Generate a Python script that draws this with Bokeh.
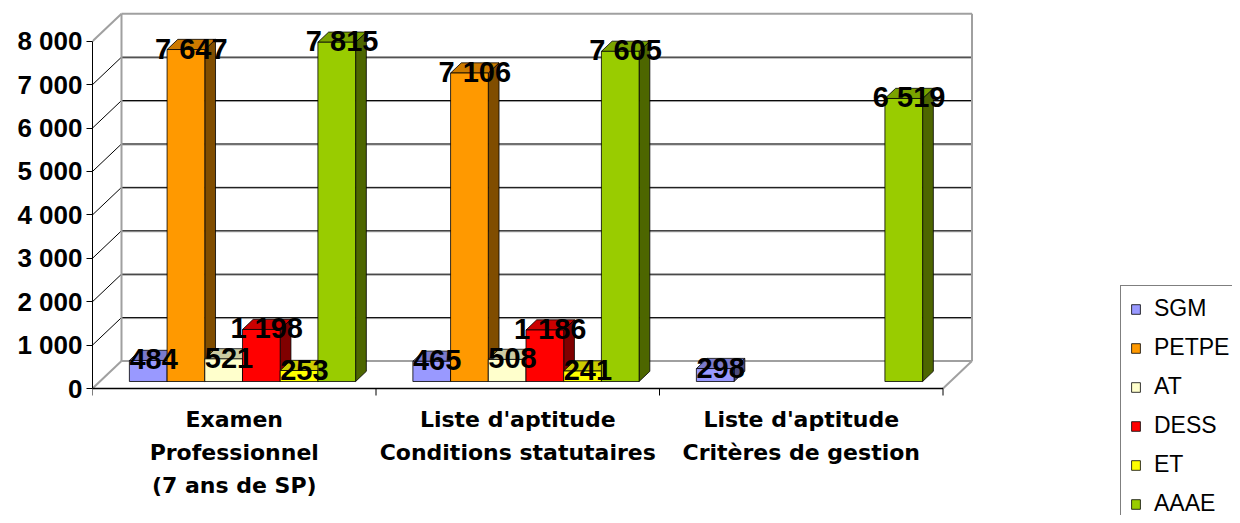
from bokeh.plotting import figure
from bokeh.models import Range1d, FixedTicker, Legend, LegendItem
from bokeh.embed import file_html
from bokeh.resources import INLINE
from bokeh.core.properties import value

# ---------------- data ----------------
CATEGORIES = ["Examen\nProfessionnel\n(7 ans de SP)",
              "Liste d'aptitude\nConditions statutaires",
              "Liste d'aptitude\nCritères de gestion"]
SERIES = ["SGM", "PETPE", "AT", "DESS", "ET", "AAAE"]
SGM = [484, 465, 298]
PETPE = [7647, 7106, None]
AT = [521, 508, None]
DESS = [1198, 1186, None]
ET = [253, 241, None]
AAAE = [7815, 7605, 6519]
Y_TICKS = [0, 1000, 2000, 3000, 4000, 5000, 6000, 7000, 8000]
Y_TICK_LABELS = ["0", "1 000", "2 000", "3 000", "4 000", "5 000", "6 000", "7 000", "8 000"]

VALUES = [SGM, PETPE, AT, DESS, ET, AAAE]
FRONT = ["#9999FF", "#FF9900", "#FFFFCC", "#FF0000", "#FFFF00", "#99CC00"]
TOP = ["#7A7ACC", "#CC7A00", "#CCCCA3", "#CC0000", "#CCCC00", "#7AA300"]
SIDE = ["#4D4D80", "#804D00", "#808066", "#800000", "#808000", "#4D6600"]

# ---------------- geometry (pixels -> data units) ----------------
W, H = 1232, 515
LEFT = 92
PX_PER_CAT = 283.5
PX_PER_UNIT = 0.04341
ZERO_FROM_BOTTOM = H - 388      # px from frame bottom to value 0
frame_w = W - LEFT
x_end = frame_w / PX_PER_CAT
y_start = -ZERO_FROM_BOTTOM / PX_PER_UNIT
y_end = (H - ZERO_FROM_BOTTOM) / PX_PER_UNIT

DDX = 29 / PX_PER_CAT           # wall depth in x
DDY = 27.5 / PX_PER_UNIT        # wall depth in y
F0 = 0.255                      # bar front position in depth
BD = 0.37                       # bar depth fraction
PAD = 0.104
BW = 0.133
NC = len(CATEGORIES)
YMAX = Y_TICKS[-1]

p = figure(width=W, height=H, output_backend="svg", toolbar_location=None,
           x_range=Range1d(0, x_end), y_range=Range1d(y_start, y_end),
           x_axis_location=None, min_border_left=LEFT, min_border_right=0,
           min_border_top=0, min_border_bottom=0)
p.outline_line_color = None
p.xgrid.visible = False
p.ygrid.visible = False

ax = p.yaxis[0]
ax.ticker = FixedTicker(ticks=Y_TICKS, minor_ticks=[])
ax.major_label_overrides = {t: l for t, l in zip(Y_TICKS, Y_TICK_LABELS)}
ax.bounds = (0, YMAX)
ax.axis_line_color = "black"
ax.major_tick_line_color = "black"
ax.major_tick_out = 6
ax.major_tick_in = 0
ax.minor_tick_line_color = None
ax.major_label_standoff = 4
ax.major_label_text_font = "Liberation Sans"
ax.major_label_text_font_style = "bold"
ax.major_label_text_font_size = "26px"
ax.major_label_text_color = "black"

GRAY = "#A0A0A0"
px = 1 / PX_PER_UNIT
# walls: gridlines on back wall and diagonals on side wall
inner = Y_TICKS[1:-1]
p.segment(x0=[DDX] * len(inner), y0=[v + DDY - px for v in inner],
          x1=[NC + DDX] * len(inner), y1=[v + DDY - px for v in inner],
          line_color=GRAY, line_width=1)
p.segment(x0=[DDX] * len(inner), y0=[v + DDY for v in inner],
          x1=[NC + DDX] * len(inner), y1=[v + DDY for v in inner],
          line_color="black", line_width=1)
p.segment(x0=[0] * len(inner), y0=inner, x1=[DDX] * len(inner),
          y1=[v + DDY for v in inner], line_color="black", line_width=1)
# outer wall edges
ex0 = [DDX, NC + DDX, DDX, DDX, NC, 0, 0]
ey0 = [DDY, DDY, YMAX + DDY, DDY, 0, 0, YMAX]
ex1 = [DDX, NC + DDX, NC + DDX, NC + DDX, NC + DDX, DDX, DDX]
ey1 = [YMAX + DDY, YMAX + DDY, YMAX + DDY, DDY, DDY, DDY, YMAX + DDY]
p.segment(x0=ex0, y0=ey0, x1=ex1, y1=ey1, line_color=GRAY, line_width=2)
# front category axis with boundary ticks
p.segment(x0=[0], y0=[0], x1=[NC], y1=[0], line_color="black", line_width=1.5)
bounds = list(range(NC + 1))
p.segment(x0=bounds, y0=[0] * len(bounds), x1=bounds, y1=[-7 * px] * len(bounds),
          line_color="black", line_width=1)

# ---------------- bars ----------------
bx, by = BD * DDX, BD * DDY
front_renderers = []
lab_x, lab_y, lab_t = [], [], []
for j, vals in enumerate(VALUES):
    fx0, fx1, fy0, fy1 = [], [], [], []
    sxs, sys_, txs, tys = [], [], [], []
    for i, v in enumerate(vals):
        if v is None:
            continue
        x0 = i + PAD + j * BW + F0 * DDX
        x1 = x0 + BW
        y0 = F0 * DDY
        y1 = v + F0 * DDY
        fx0.append(x0); fx1.append(x1); fy0.append(y0); fy1.append(y1)
        sxs.append([x1, x1 + bx, x1 + bx, x1])
        sys_.append([y0, y0 + by, y1 + by, y1])
        txs.append([x0, x1, x1 + bx, x0 + bx])
        tys.append([y1, y1, y1 + by, y1 + by])
        lab_x.append((x0 + x1) / 2 + bx / 2)
        lab_y.append(y1)
        lab_t.append(f"{v:,}".replace(",", " "))
    p.patches(xs=sxs, ys=sys_, fill_color=SIDE[j], line_color="black", line_width=0.8)
    p.patches(xs=txs, ys=tys, fill_color=TOP[j], line_color="black", line_width=0.8)
    r = p.quad(left=fx0, right=fx1, bottom=fy0, top=fy1, fill_color=FRONT[j],
               line_color="black", line_width=0.8)
    front_renderers.append(r)

p.text(x=lab_x, y=lab_y, text=lab_t, text_align="center", text_baseline="alphabetic",
       y_offset=-1, text_font=value("Liberation Sans"), text_font_style="bold",
       text_font_size="29px", text_color="black")

# category labels
p.text(x=[i + 0.5 for i in range(NC)], y=[0] * NC, text=CATEGORIES,
       text_align="center", text_baseline="top", y_offset=18,
       text_font=value("DejaVu Sans"), text_font_style="bold",
       text_font_size="22px", text_line_height=1.33, text_color="black")

# legend
legend = Legend(items=[LegendItem(label=s, renderers=[r]) for s, r in zip(SERIES, front_renderers)],
                location=(1028, -12), orientation="vertical",
                padding=9, spacing=12, glyph_width=11, glyph_height=12,
                label_height=12, label_standoff=13,
                label_text_font="Liberation Sans", label_text_font_size="23px",
                label_text_color="black", border_line_color="black",
                border_line_width=1, background_fill_color="white",
                background_fill_alpha=1)
p.add_layout(legend)

open("out.html", "w").write(file_html(p, INLINE))
